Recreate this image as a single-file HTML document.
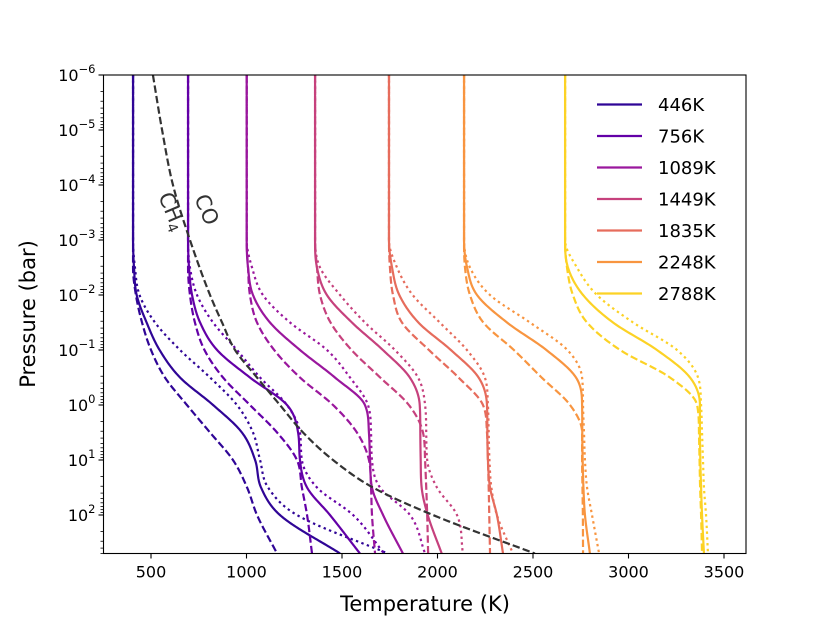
<!DOCTYPE html>
<html><head><meta charset="utf-8"><style>
html,body{margin:0;padding:0;background:#fff;}
svg{display:block;font-family:"DejaVu Sans","Liberation Sans",sans-serif;}
</style></head><body>
<svg id="chart" width="830" height="623" viewBox="0 0 830 623" xmlns="http://www.w3.org/2000/svg">
<rect x="0" y="0" width="830" height="623" fill="#fff"/>
<g id="plot"></g>
<g id="axes"></g>
<g id="legend"></g>
</svg>
<script>
// log10 pressure levels (bar)
const logP = [-6, -3, -2.5, -2, -1.5, -1, -0.5, 0, 0.5, 1, 1.5, 2, 2.7];
const labels = ["446K","756K","1089K","1449K","1835K","2248K","2788K"];
const colors = ["#2f0596","#6300a7","#9a179d","#c6417d","#e66c5c","#f89540","#fcd225"];
const solid = [
 [406,406,411,425,477,545,652,825,976,1045,1076,1175,1490],
 [694,694,699,715,757,846,1018,1212,1270,1280,1317,1437,1594],
 [1001,1001,1008,1034,1123,1280,1463,1620,1641,1647,1657,1715,1819],
 [1359,1359,1369,1421,1552,1714,1855,1907,1910,1912,1917,1949,2022],
 [1746,1746,1762,1800,1900,2070,2215,2259,2261,2264,2275,2311,2343],
 [2139,2139,2155,2207,2364,2570,2725,2757,2758,2760,2764,2772,2798],
 [2668,2668,2683,2762,2919,3149,3322,3374,3374,3376,3380,3385,3395]
];
const dotted = [
 [406,406,416,440,521,652,809,950,1034,1071,1113,1264,1740],
 [694,694,704,741,825,950,1071,1212,1280,1290,1369,1558,1720],
 [1001,1001,1029,1086,1228,1421,1542,1636,1652,1657,1699,1856,1935],
 [1359,1359,1385,1490,1620,1777,1898,1935,1941,1946,1997,2102,2133],
 [1746,1746,1788,1870,2012,2154,2248,2264,2268,2272,2282,2311,2395],
 [2139,2139,2170,2275,2484,2680,2757,2762,2767,2772,2783,2809,2846],
 [2668,2668,2730,2835,3024,3254,3364,3380,3385,3390,3395,3406,3416]
];
const dashed = [
 [406,406,406,421,453,500,573,688,809,929,1003,1055,1160],
 [694,694,694,704,730,780,877,1018,1160,1264,1290,1317,1343],
 [1001,1001,1008,1018,1055,1145,1280,1453,1578,1641,1652,1657,1673],
 [1359,1359,1369,1385,1440,1550,1700,1850,1924,1935,1941,1946,1951],
 [1746,1746,1751,1767,1814,1955,2110,2238,2259,2264,2268,2271,2275],
 [2139,2139,2144,2170,2240,2400,2545,2694,2757,2757,2759,2761,2762],
 [2668,2668,2678,2709,2783,2956,3217,3359,3369,3372,3375,3380,3385]
];
// CO/CH4 equal-abundance boundary
const boundaryLogP = [-6, -5, -4, -3, -2, -1.5, -1, -0.5, 0, 0.5, 1, 1.5, 2, 2.7];
const boundaryT = [510, 558, 615, 704, 809, 872, 940, 1055, 1175, 1296, 1453, 1662, 1976, 2510];
const xTicks = [500,1000,1500,2000,2500,3000,3500];
const yTickExps = [-6,-5,-4,-3,-2,-1,0,1,2];

const NS = "http://www.w3.org/2000/svg";
const L = 103.5, R = 746, T0 = 75, B = 553.5;
function X(t){ return 151 + (t - 500) * 0.191; }
function Y(lp){ return 75 + (lp + 6) * 55; }
function mk(tag, attrs, parent){
  const e = document.createElementNS(NS, tag);
  for (const k in attrs) e.setAttribute(k, attrs[k]);
  parent.appendChild(e); return e;
}
// monotone cubic (Fritsch-Carlson) interpolation of T vs logP, sampled densely
function monoPath(xs, ys){
  const n = xs.length, d = [], m = [];
  for (let i = 0; i < n-1; i++) d.push((ys[i+1]-ys[i])/(xs[i+1]-xs[i]));
  m[0] = d[0]; m[n-1] = d[n-2];
  for (let i = 1; i < n-1; i++) m[i] = (d[i-1]*d[i] <= 0) ? 0 : (d[i-1]+d[i])/2;
  for (let i = 0; i < n-1; i++){
    if (d[i] === 0){ m[i] = 0; m[i+1] = 0; continue; }
    const a = m[i]/d[i], b = m[i+1]/d[i], s = a*a + b*b;
    if (s > 9){ const t = 3/Math.sqrt(s); m[i] = t*a*d[i]; m[i+1] = t*b*d[i]; }
  }
  let path = "";
  for (let i = 0; i < n-1; i++){
    const h = xs[i+1]-xs[i], steps = Math.max(2, Math.ceil(h/0.02));
    for (let k = (i === 0 ? 0 : 1); k <= steps; k++){
      const t = k/steps, t2 = t*t, t3 = t2*t;
      const v = (2*t3-3*t2+1)*ys[i] + (t3-2*t2+t)*h*m[i] + (-2*t3+3*t2)*ys[i+1] + (t3-t2)*h*m[i+1];
      const lp = xs[i] + t*h;
      path += (path ? " L" : "M") + X(v).toFixed(2) + "," + Y(lp).toFixed(2);
    }
  }
  return path;
}
const plot = document.getElementById("plot");
const clip = mk("clipPath", {id:"pc"}, mk("defs", {}, plot));
mk("rect", {x:L, y:T0, width:R-L, height:B-T0}, clip);
const g = mk("g", {"clip-path":"url(#pc)"}, plot);

const styles = [["solid",solid,null],["dotted",dotted,"2.4,3.4"],["dashed",dashed,"7.4,3.2"]];
for (let s = 0; s < labels.length; s++){
  for (const [nm, arr, dash] of styles){
    const p = mk("path", {d: monoPath(logP, arr[s]), fill:"none", stroke: colors[s], "stroke-width": 2.2, "stroke-linejoin":"round"}, g);
    if (dash) p.setAttribute("stroke-dasharray", dash);
    
    
  }
}
const bp = mk("path", {d: monoPath(boundaryLogP, boundaryT), fill:"none", stroke:"#333", "stroke-width":2.2, "stroke-dasharray":"7.4,3.2"}, g);



// annotation labels
const co = mk("text", {x:0, y:0, "font-size":21, fill:"#333", transform:"translate(194,198) rotate(67)"}, plot);
co.textContent = "CO";


const ch = mk("text", {x:0, y:0, "font-size":21, fill:"#333", transform:"translate(158,196) rotate(67)"}, plot);
ch.innerHTML = 'CH<tspan font-size="14" dy="4">4</tspan>';



// axes
const ax = document.getElementById("axes");
const frame = mk("rect", {x:L, y:T0, width:R-L, height:B-T0, fill:"none", stroke:"#000", "stroke-width":1.1}, ax);


for (const t of xTicks){
  const x = X(t);
  const tk = mk("line", {x1:x, x2:x, y1:B, y2:B+5, stroke:"#000", "stroke-width":1.1}, ax);
  
  
  const tx = mk("text", {x:x, y:B+24, "font-size":16, "text-anchor":"middle"}, ax);
  tx.textContent = t;
  
  
}
for (const e of yTickExps){
  const y = Y(e);
  const tk = mk("line", {x1:L-5, x2:L, y1:y, y2:y, stroke:"#000", "stroke-width":1.1}, ax);
  
  
  const tx = mk("text", {x:L-8, y:y+6, "font-size":16, "text-anchor":"end"}, ax);
  tx.innerHTML = '10<tspan font-size="11.5" dy="-8">' + (e < 0 ? "\u2212" + (-e) : e) + '</tspan>';
  
  
}
for (let e = -6; e <= 2; e++){
  for (let m = 2; m <= 9; m++){
    const lp = e + Math.log10(m);
    if (lp > 2.7) break;
    const y = Y(lp);
    const tk = mk("line", {x1:L-3, x2:L, y1:y, y2:y, stroke:"#000", "stroke-width":0.8}, ax);
    
    
  }
}
const xl = mk("text", {x:425, y:611, "font-size":21, "text-anchor":"middle"}, ax);
xl.textContent = "Temperature (K)";


const yl = mk("text", {x:0, y:0, "font-size":21, "text-anchor":"middle", transform:"translate(35,314) rotate(-90)"}, ax);
yl.textContent = "Pressure (bar)";



// legend
const lg = document.getElementById("legend");
for (let s = 0; s < labels.length; s++){
  const y = 104.5 + s * 31.5;
  const entry = mk("g", {}, lg);
  
  
  mk("line", {x1:597, x2:642, y1:y, y2:y, stroke:colors[s], "stroke-width":2.2}, entry);
  const t = mk("text", {x:658, y:y+6.5, "font-size":18}, entry);
  t.textContent = labels[s];
}
</script>
</body></html>
